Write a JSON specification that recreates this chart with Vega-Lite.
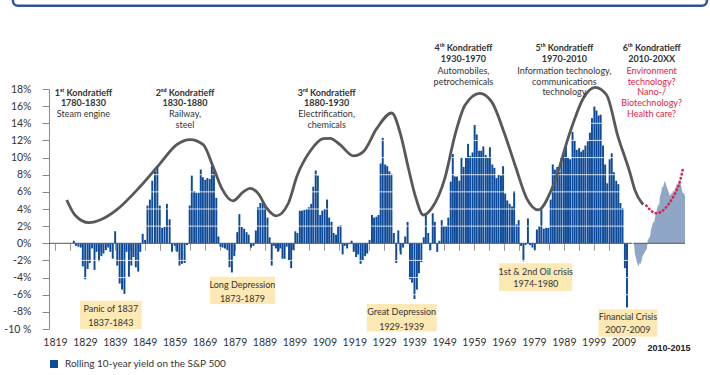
{
"$schema": "https://vega.github.io/schema/vega-lite/v6.json",
"width": 651, "height": 240,
"autosize": {"type": "none"},
"padding": {"left": 49, "top": 89, "right": 10, "bottom": 46},
"background": "white",
"config": {"view": {"stroke": null}},
"datasets": {
"bars": [
{"t":1825.3,"v":0.3},{"t":1826.0,"v":-0.3},{"t":1826.8,"v":-0.4},{"t":1827.6,"v":-0.5},{"t":1828.3,"v":-2.7},{"t":1829.1,"v":-4.2},{"t":1829.9,"v":-3.0},{"t":1830.6,"v":-2.3},{"t":1831.4,"v":-0.6},{"t":1832.2,"v":-3.1},
{"t":1832.9,"v":-1.0},{"t":1833.7,"v":-2.1},{"t":1834.5,"v":-1.5},{"t":1835.2,"v":-1.2},{"t":1836.0,"v":-0.8},{"t":1836.8,"v":-0.5},{"t":1837.5,"v":-1.0},{"t":1838.3,"v":-1.8},{"t":1839.1,"v":1.4},{"t":1839.8,"v":-2.6},
{"t":1840.6,"v":-4.7},{"t":1841.4,"v":-5.4},{"t":1842.2,"v":-5.9},{"t":1842.9,"v":-1.0},{"t":1843.7,"v":-3.9},{"t":1844.5,"v":-2.6},{"t":1845.2,"v":-1.6},{"t":1846.0,"v":-2.8},{"t":1846.8,"v":-3.3},{"t":1847.5,"v":-1.0},
{"t":1848.3,"v":1.1},{"t":1849.1,"v":0.4},{"t":1849.9,"v":4.4},{"t":1850.7,"v":5.1},{"t":1851.5,"v":7.3},{"t":1852.4,"v":8.4},{"t":1853.2,"v":8.9},{"t":1854.0,"v":4.4},{"t":1854.8,"v":1.8},{"t":1855.6,"v":1.9},{"t":1856.4,"v":4.6},{"t":1857.3,"v":2.8},
{"t":1858.1,"v":-1.0},{"t":1859.0,"v":-0.3},{"t":1859.8,"v":-1.0},{"t":1860.6,"v":-2.6},{"t":1861.4,"v":-2.4},{"t":1862.3,"v":-2.3},{"t":1863.1,"v":-0.2},
{"t":1864.0,"v":4.4},{"t":1864.7,"v":7.9},{"t":1865.5,"v":6.1},{"t":1866.2,"v":5.9},{"t":1867.0,"v":5.9},{"t":1867.7,"v":8.6},{"t":1868.4,"v":7.7},{"t":1869.2,"v":7.4},{"t":1869.9,"v":7.6},{"t":1870.7,"v":7.5},{"t":1871.4,"v":9.0},{"t":1872.1,"v":8.4},{"t":1872.9,"v":5.3},{"t":1873.6,"v":0.8},
{"t":1874.3,"v":-0.4},{"t":1875.0,"v":-0.5},{"t":1875.8,"v":-0.6},{"t":1876.6,"v":-0.8},{"t":1877.3,"v":-2.8},{"t":1878.1,"v":-3.4},{"t":1878.9,"v":-1.5},
{"t":1879.9,"v":1.3},{"t":1880.6,"v":3.4},{"t":1881.4,"v":1.9},{"t":1882.2,"v":1.7},{"t":1883.0,"v":1.3},{"t":1883.7,"v":1.0},{"t":1884.5,"v":-0.5},{"t":1885.3,"v":-0.3},{"t":1886.1,"v":1.5},{"t":1886.8,"v":4.2},{"t":1887.6,"v":4.7},{"t":1888.4,"v":4.9},{"t":1889.2,"v":4.3},{"t":1890.0,"v":3.0},{"t":1890.7,"v":0.7},
{"t":1891.4,"v":-2.6},{"t":1892.1,"v":-0.3},{"t":1892.8,"v":-0.6},{"t":1893.5,"v":-1.0},{"t":1894.3,"v":-0.6},{"t":1895.0,"v":-1.8},{"t":1895.7,"v":-1.8},{"t":1896.4,"v":-0.4},{"t":1897.2,"v":-2.0},{"t":1897.9,"v":-2.9},{"t":1898.6,"v":-0.8},
{"t":1899.3,"v":1.4},{"t":1900.0,"v":1.2},{"t":1900.8,"v":3.8},{"t":1901.5,"v":3.8},{"t":1902.3,"v":3.9},{"t":1903.1,"v":4.0},{"t":1903.8,"v":4.2},{"t":1904.6,"v":4.6},{"t":1905.3,"v":6.6},{"t":1906.1,"v":8.5},{"t":1906.8,"v":7.9},{"t":1907.6,"v":3.3},{"t":1908.3,"v":3.8},{"t":1909.1,"v":4.0},{"t":1909.9,"v":5.1},{"t":1910.6,"v":3.0},{"t":1911.4,"v":2.5},{"t":1912.1,"v":1.2},{"t":1912.9,"v":1.0},{"t":1913.6,"v":2.0},{"t":1914.4,"v":2.1},
{"t":1915.1,"v":-1.3},{"t":1915.8,"v":-0.3},{"t":1916.6,"v":-0.6},{"t":1917.3,"v":-0.1},{"t":1918.1,"v":0.3},{"t":1918.8,"v":-1.0},{"t":1919.6,"v":-1.6},{"t":1920.3,"v":-1.3},{"t":1921.1,"v":-2.4},{"t":1921.8,"v":-2.0},{"t":1922.6,"v":-1.5},{"t":1923.3,"v":-1.2},{"t":1924.1,"v":0.4},
{"t":1924.9,"v":3.3},{"t":1925.6,"v":3.0},{"t":1926.4,"v":3.1},{"t":1927.1,"v":3.3},{"t":1927.8,"v":9.3},{"t":1928.5,"v":12.3},{"t":1929.3,"v":9.2},{"t":1930.0,"v":9.0},{"t":1930.7,"v":8.4},{"t":1931.4,"v":8.1},{"t":1932.2,"v":1.2},
{"t":1933.0,"v":-2.3},{"t":1933.7,"v":1.5},{"t":1934.5,"v":-1.3},{"t":1935.3,"v":-0.5},{"t":1936.0,"v":0.8},{"t":1936.8,"v":2.5},{"t":1937.6,"v":-4.2},{"t":1938.3,"v":-4.6},{"t":1939.1,"v":-6.5},{"t":1939.9,"v":-5.4},{"t":1940.6,"v":-3.5},{"t":1941.4,"v":-2.2},
{"t":1942.2,"v":0.7},{"t":1942.9,"v":3.5},{"t":1943.7,"v":1.2},{"t":1944.4,"v":-0.8},{"t":1945.2,"v":3.5},{"t":1945.9,"v":2.5},{"t":1946.7,"v":-1.0},{"t":1947.4,"v":0.3},{"t":1948.2,"v":2.7},{"t":1948.9,"v":2.0},{"t":1949.7,"v":2.0},{"t":1950.4,"v":3.0},
{"t":1951.2,"v":7.2},{"t":1951.9,"v":10.4},{"t":1952.6,"v":7.8},{"t":1953.3,"v":7.8},{"t":1954.1,"v":7.3},{"t":1954.8,"v":10.0},{"t":1955.5,"v":8.9},{"t":1956.3,"v":10.0},{"t":1957.0,"v":11.6},{"t":1957.7,"v":10.2},{"t":1958.5,"v":10.6},{"t":1959.2,"v":13.8},{"t":1959.9,"v":12.7},{"t":1960.7,"v":10.8},{"t":1961.4,"v":10.8},{"t":1962.1,"v":11.3},{"t":1962.9,"v":10.3},{"t":1963.6,"v":10.0},{"t":1964.3,"v":11.2},{"t":1965.1,"v":9.2},{"t":1965.8,"v":8.8},{"t":1966.5,"v":7.6},{"t":1967.2,"v":8.0},{"t":1968.0,"v":7.9},{"t":1968.7,"v":9.0},{"t":1969.4,"v":5.8},
{"t":1970.1,"v":5.0},{"t":1970.9,"v":4.6},{"t":1971.7,"v":4.3},{"t":1972.4,"v":6.1},{"t":1973.2,"v":2.2},{"t":1973.9,"v":2.7},{"t":1974.7,"v":-0.3},{"t":1975.5,"v":-2.1},{"t":1976.2,"v":-0.2},{"t":1977.0,"v":2.9},{"t":1977.7,"v":-0.2},{"t":1978.5,"v":-0.5},{"t":1979.3,"v":-0.8},{"t":1980.0,"v":1.6},{"t":1980.8,"v":2.0},{"t":1981.5,"v":4.0},{"t":1982.3,"v":1.7},{"t":1983.1,"v":1.8},{"t":1983.8,"v":1.8},
{"t":1984.6,"v":5.1},{"t":1985.3,"v":9.2},{"t":1986.0,"v":8.6},{"t":1986.8,"v":8.9},{"t":1987.5,"v":8.3},{"t":1988.2,"v":10.0},{"t":1989.0,"v":10.5},{"t":1989.7,"v":11.7},{"t":1990.4,"v":10.0},{"t":1991.1,"v":9.8},{"t":1991.9,"v":13.0},{"t":1992.6,"v":12.0},{"t":1993.3,"v":10.9},{"t":1994.1,"v":11.1},{"t":1994.8,"v":10.7},{"t":1995.5,"v":10.9},{"t":1996.2,"v":11.4},{"t":1997.0,"v":11.9},{"t":1997.7,"v":12.9},{"t":1998.4,"v":14.6},{"t":1999.2,"v":16.0},{"t":1999.9,"v":15.5},{"t":2000.6,"v":14.9},{"t":2001.3,"v":15.0},{"t":2002.1,"v":11.4},{"t":2002.8,"v":9.2},{"t":2003.5,"v":7.0},{"t":2004.3,"v":9.8},{"t":2005.0,"v":10.5},{"t":2005.7,"v":8.3},{"t":2006.5,"v":7.3},{"t":2007.2,"v":6.9},{"t":2007.9,"v":4.7},{"t":2008.6,"v":4.1},{"t":2009.4,"v":-2.9},{"t":2010.1,"v":-7.5}
],
"grid": [{"g":-8},{"g":-6},{"g":-4},{"g":-2},{"g":2},{"g":4},{"g":6},{"g":8},{"g":10},{"g":12},{"g":14},{"g":16}],
"curve": [
{"year":1824.5,"v":5.05},{"year":1827.2,"v":3.3},{"year":1831.8,"v":2.4},{"year":1836.0,"v":2.8},{"year":1840.9,"v":3.9},{"year":1848.6,"v":6.6},{"year":1855.2,"v":9.3},{"year":1860.7,"v":11.5},{"year":1865.1,"v":12.1},{"year":1869.4,"v":11.5},{"year":1872.7,"v":8.9},{"year":1875.5,"v":6.4},{"year":1879.2,"v":4.95},{"year":1882.6,"v":6.0},{"year":1884.8,"v":6.4},{"year":1887.5,"v":5.8},{"year":1890.3,"v":4.1},{"year":1893.4,"v":3.2},{"year":1897.4,"v":4.67},{"year":1900.2,"v":7.8},{"year":1904.5,"v":10.7},{"year":1908.9,"v":12.2},{"year":1911.1,"v":12.25},{"year":1914.4,"v":11.5},{"year":1918.8,"v":10.2},{"year":1922.1,"v":10.7},{"year":1926.5,"v":13.4},{"year":1931.4,"v":15.2},{"year":1934.4,"v":12.6},{"year":1936.9,"v":8.75},{"year":1939.1,"v":5.6},{"year":1941.8,"v":3.3},{"year":1944.6,"v":4.1},{"year":1948.9,"v":7.6},{"year":1952.2,"v":12.6},{"year":1955.5,"v":16.1},{"year":1960.4,"v":17.5},{"year":1964.3,"v":16.5},{"year":1968.7,"v":12.6},{"year":1972.0,"v":9.1},{"year":1975.8,"v":5.25},{"year":1979.6,"v":3.9},{"year":1984.6,"v":6.8},{"year":1990.1,"v":13.0},{"year":1994.4,"v":16.9},{"year":1998.3,"v":18.2},{"year":2002.1,"v":17.3},{"year":2005.8,"v":12.5},{"year":2009.8,"v":8.2},{"year":2011.4,"v":6.2},{"year":2014.1,"v":4.5}
],
"light": [
{"t":2010.0,"v":0},{"t":2010.1,"v":-1.2},{"t":2010.25,"v":-1.8},{"t":2010.35,"v":-2.2},{"t":2010.45,"v":-2.5},{"t":2010.53,"v":-2.7},{"t":2010.65,"v":-2.3},{"t":2010.82,"v":-2.4},{"t":2010.95,"v":-1.7},{"t":2011.06,"v":-1.4},{"t":2011.18,"v":-1.2},{"t":2011.29,"v":-1.0},{"t":2011.4,"v":-0.8},{"t":2011.53,"v":-0.6},{"t":2011.6,"v":0.3},{"t":2011.75,"v":0.6},{"t":2011.88,"v":0.8},{"t":2012.0,"v":1.6},{"t":2012.12,"v":2.0},{"t":2012.25,"v":2.6},{"t":2012.35,"v":2.3},{"t":2012.47,"v":3.0},{"t":2012.6,"v":3.6},{"t":2012.71,"v":4.0},{"t":2012.85,"v":4.6},{"t":2012.95,"v":4.3},{"t":2013.06,"v":5.5},{"t":2013.2,"v":5.9},{"t":2013.3,"v":6.6},{"t":2013.41,"v":6.5},{"t":2013.53,"v":7.0},{"t":2013.65,"v":7.3},{"t":2013.77,"v":6.8},{"t":2013.88,"v":6.5},{"t":2014.0,"v":6.2},{"t":2014.12,"v":5.8},{"t":2014.24,"v":5.5},{"t":2014.35,"v":5.9},{"t":2014.47,"v":5.7},{"t":2014.59,"v":6.2},{"t":2014.7,"v":6.0},{"t":2014.82,"v":6.4},{"t":2014.94,"v":6.6},{"t":2015.05,"v":7.0},{"t":2015.17,"v":6.7},{"t":2015.29,"v":7.4},{"t":2015.41,"v":7.1},{"t":2015.53,"v":6.8},{"t":2015.65,"v":6.2},{"t":2015.76,"v":5.8},{"t":2015.88,"v":5.9},{"t":2016.0,"v":5.5}
],
"dots": [
{"t":2011.45,"v":4.4},{"t":2011.9,"v":3.9},{"t":2012.4,"v":3.55},{"t":2012.8,"v":3.5},{"t":2013.3,"v":3.75},{"t":2013.85,"v":4.3},{"t":2014.6,"v":5.4},{"t":2015.1,"v":6.4},{"t":2015.45,"v":7.4},{"t":2015.8,"v":8.9}
],
"boxes": [
{"x1":1828.9,"x2":1849.2,"y1":-6.7,"y2":-10.0},
{"x1":1871.6,"x2":1893.0,"y1":-3.9,"y2":-7.08},
{"x1":1923.2,"x2":1946.2,"y1":-7.08,"y2":-10.3},
{"x1":1966.7,"x2":1990.8,"y1":-2.33,"y2":-5.57},
{"x1":1999.4,"x2":2018.8,"y1":-7.7,"y2":-10.9}
],
"events": [
{"x":1839.0,"y":-7.7,"s":"Panic of 1837"},{"x":1839.0,"y":-9.26,"s":"1837-1843"},
{"x":1882.3,"y":-4.87,"s":"Long Depression"},{"x":1882.3,"y":-6.5,"s":"1873-1879"},
{"x":1934.7,"y":-8.05,"s":"Great Depression"},{"x":1934.7,"y":-9.73,"s":"1929-1939"},
{"x":1978.8,"y":-3.31,"s":"1st & 2nd Oil crisis"},{"x":1978.8,"y":-4.78,"s":"1974-1980"},
{"x":2009.1,"y":-8.63,"s":"Financial Crisis"},{"x":2009.1,"y":-10.1,"s":"2007-2009"}
],
"heads": [
{"x":1830.0,"y":17.5,"s":"1ˢᵗ Kondratieff"},{"x":1830.0,"y":16.34,"s":"1780-1830"},
{"x":1863.4,"y":17.5,"s":"2ⁿᵈ Kondratieff"},{"x":1863.4,"y":16.34,"s":"1830-1880"},
{"x":1910.0,"y":17.5,"s":"3ʳᵈ Kondratieff"},{"x":1910.0,"y":16.34,"s":"1880-1930"},
{"x":1955.0,"y":22.75,"s":"4ᵗʰ Kondratieff"},{"x":1955.0,"y":21.47,"s":"1930-1970"},
{"x":1988.2,"y":22.75,"s":"5ᵗʰ Kondratieff"},{"x":1988.2,"y":21.47,"s":"1970-2010"},
{"x":2016.9,"y":22.75,"s":"6ᵗʰ Kondratieff"},{"x":2016.9,"y":21.47,"s":"2010-20XX"}
],
"descs": [
{"x":1830.0,"y":15.05,"s":"Steam engine"},
{"x":1863.4,"y":15.05,"s":"Railway,"},{"x":1863.4,"y":13.8,"s":"steel"},
{"x":1910.0,"y":15.05,"s":"Electrification,"},{"x":1910.0,"y":13.8,"s":"chemicals"},
{"x":1955.0,"y":20.14,"s":"Automobiles,"},{"x":1955.0,"y":18.85,"s":"petrochemicals"},
{"x":1988.2,"y":20.14,"s":"Information technology,"},{"x":1988.2,"y":18.85,"s":"communications"},{"x":1988.2,"y":17.6,"s":"technology"}
],
"questions": [
{"x":2016.9,"y":20.14,"s":"Environment"},{"x":2016.9,"y":18.85,"s":"technology?"},{"x":2016.9,"y":17.6,"s":"Nano-/"},{"x":2016.9,"y":16.34,"s":"Biotechnology?"},{"x":2016.9,"y":15.05,"s":"Health care?"}
]
},
"layer": [
{
"data": {"name": "bars"},
"mark": {"type": "bar", "width": 1.95, "color": "#0D4A99"},
"encoding": {
"x": {"field": "t", "type": "quantitative", "scale": {"domain": [1818.67, 2032.82], "nice": false, "zero": false},
"axis": {"orient": "bottom", "offset": -85.7, "values": [1819,1824,1829,1834,1839,1844,1849,1854,1859,1864,1869,1874,1879,1884,1889,1894,1899,1904,1909,1914,1919,1924,1929,1934,1939,1944,1949,1954,1959,1964,1969,1974,1979,1984,1989,1994,1999,2004,2009], "labelExpr": "(datum.value - 1819) % 10 == 0 ? '' + datum.value : ''", "title": null, "ticks": true, "tickSize": 7, "tickColor": "#9a9a9a", "domain": false, "grid": false, "labelPadding": 87, "labelFont": "Lato", "labelFontSize": 10.5, "labelColor": "#333333", "labelFlush": false, "labelOverlap": false, "labelBound": false}},
"y": {"field": "v", "type": "quantitative", "scale": {"domain": [-10, 18], "nice": false, "zero": false},
"axis": {"orient": "left", "values": [-10,-8,-6,-4,-2,0,2,4,6,8,10,12,14,16,18], "labelExpr": "datum.value == -10 ? '-10 %' : datum.value + '%'", "title": null, "grid": false, "tickSize": 7, "labelPadding": 11, "tickColor": "#8a8a8a", "domainColor": "#8a8a8a", "labelFont": "Lato", "labelFontSize": 10.5, "labelColor": "#333333", "labelOverlap": false, "labelFlush": false, "labelBound": false}},
"color": {"datum": "Rolling 10-year yield on the S&P 500", "type": "nominal", "scale": {"range": ["#0D4A99"]},
"legend": {"orient": "none", "legendX": 0, "legendY": 270, "title": null, "symbolType": "square", "symbolSize": 64, "symbolStrokeWidth": 0, "labelFont": "Lato", "labelFontSize": 10, "labelColor": "#333333", "labelLimit": 0, "padding": 0, "labelOffset": 6}}
}
},
{
"data": {"name": "grid"},
"mark": {"type": "rule", "color": "white", "strokeWidth": 0.8},
"encoding": {
"y": {"field": "g", "type": "quantitative", "scale": {"domain": [-10, 18], "nice": false, "zero": false}, "axis": null},
"x": {"datum": 1819.3, "type": "quantitative", "scale": {"domain": [1818.67, 2032.82], "nice": false, "zero": false}, "axis": null},
"x2": {"datum": 2010.8}
}
},
{
"data": {"values": [{}]},
"mark": {"type": "rule", "color": "#555555", "strokeWidth": 1},
"encoding": {
"y": {"datum": 0, "type": "quantitative", "scale": {"domain": [-10, 18], "nice": false, "zero": false}, "axis": null},
"x": {"datum": 1818.67, "type": "quantitative", "scale": {"domain": [1818.67, 2032.82], "nice": false, "zero": false}, "axis": null},
"x2": {"datum": 2010.5}
}
},
{
"data": {"name": "curve"},
"mark": {"type": "line", "color": "#585858", "strokeWidth": 2.8, "interpolate": "monotone"},
"encoding": {
"x": {"field": "year", "type": "quantitative", "scale": {"domain": [1818.67, 2032.82], "nice": false, "zero": false}, "axis": null},
"y": {"field": "v", "type": "quantitative", "scale": {"domain": [-10, 18], "nice": false, "zero": false}, "axis": null}
}
},
{
"data": {"name": "boxes"},
"mark": {"type": "rect", "fill": "#FCE9B4"},
"encoding": {
"x": {"field": "x1", "type": "quantitative", "scale": {"domain": [1818.67, 2032.82], "nice": false, "zero": false}, "axis": null},
"x2": {"field": "x2"},
"y": {"field": "y1", "type": "quantitative", "scale": {"domain": [-10, 18], "nice": false, "zero": false}, "axis": null},
"y2": {"field": "y2"}
}
},
{
"data": {"name": "events"},
"mark": {"type": "text", "font": "Lato", "fontSize": 9, "color": "#333333", "align": "center", "baseline": "middle"},
"encoding": {
"x": {"field": "x", "type": "quantitative", "scale": {"domain": [1818.67, 2032.82], "nice": false, "zero": false}, "axis": null},
"y": {"field": "y", "type": "quantitative", "scale": {"domain": [-10, 18], "nice": false, "zero": false}, "axis": null},
"text": {"field": "s"}
}
},
{
"data": {"name": "heads"},
"mark": {"type": "text", "font": "Lato", "fontSize": 9, "fontWeight": "bold", "color": "#333333", "align": "center", "baseline": "middle"},
"encoding": {
"x": {"field": "x", "type": "quantitative", "scale": {"domain": [1818.67, 2032.82], "nice": false, "zero": false}, "axis": null},
"y": {"field": "y", "type": "quantitative", "scale": {"domain": [-10, 18], "nice": false, "zero": false}, "axis": null},
"text": {"field": "s"}
}
},
{
"data": {"name": "descs"},
"mark": {"type": "text", "font": "Lato", "fontSize": 9, "color": "#333333", "align": "center", "baseline": "middle"},
"encoding": {
"x": {"field": "x", "type": "quantitative", "scale": {"domain": [1818.67, 2032.82], "nice": false, "zero": false}, "axis": null},
"y": {"field": "y", "type": "quantitative", "scale": {"domain": [-10, 18], "nice": false, "zero": false}, "axis": null},
"text": {"field": "s"}
}
},
{
"data": {"name": "questions"},
"mark": {"type": "text", "font": "Lato", "fontSize": 9, "color": "#E0224A", "align": "center", "baseline": "middle"},
"encoding": {
"x": {"field": "x", "type": "quantitative", "scale": {"domain": [1818.67, 2032.82], "nice": false, "zero": false}, "axis": null},
"y": {"field": "y", "type": "quantitative", "scale": {"domain": [-10, 18], "nice": false, "zero": false}, "axis": null},
"text": {"field": "s"}
}
},
{
"data": {"name": "light"},
"mark": {"type": "area", "color": "#8FA6C6", "opacity": 1},
"encoding": {
"x": {"field": "t", "type": "quantitative", "scale": {"domain": [2010, 2016], "range": [585, 636], "nice": false, "zero": false},
"axis": {"orient": "bottom", "title": "2010-2015", "labels": false, "ticks": false, "domain": false, "grid": false, "titleFont": "Liberation Sans", "titleFontWeight": "bold", "titleFontSize": 9, "titleColor": "#222222", "titleX": 619.5, "titleY": 18, "titleAlign": "center", "titleBaseline": "middle"}},
"y": {"field": "v", "type": "quantitative", "scale": {"domain": [-10, 18], "nice": false, "zero": false}, "axis": null}
}
},
{
"data": {"values": [{}]},
"mark": {"type": "rule", "color": "#555555", "strokeWidth": 1},
"encoding": {
"y": {"datum": 0, "type": "quantitative", "scale": {"domain": [-10, 18], "nice": false, "zero": false}, "axis": null},
"x": {"datum": 2009.9, "type": "quantitative", "scale": {"domain": [2010, 2016], "range": [585, 636], "nice": false, "zero": false}, "axis": null},
"x2": {"datum": 2016.0}
}
},
{
"data": {"name": "dots"},
"mark": {"type": "line", "color": "#E0224A", "strokeWidth": 2.6, "strokeDash": [0.5, 3.6], "strokeCap": "round", "interpolate": "monotone"},
"encoding": {
"x": {"field": "t", "type": "quantitative", "scale": {"domain": [2010, 2016], "range": [585, 636], "nice": false, "zero": false}, "axis": null},
"y": {"field": "v", "type": "quantitative", "scale": {"domain": [-10, 18], "nice": false, "zero": false}, "axis": null}
}
},
{
"data": {"values": [{}]},
"mark": {"type": "rect", "fill": "white", "stroke": "#2E5597", "strokeWidth": 2.5, "cornerRadius": 5},
"encoding": {
"x": {"datum": 1806.8, "type": "quantitative", "scale": {"domain": [1818.67, 2032.82], "nice": false, "zero": false}, "axis": null},
"x2": {"datum": 2035.1},
"y": {"datum": 27.7, "type": "quantitative", "scale": {"domain": [-10, 18], "nice": false, "zero": false}, "axis": null},
"y2": {"datum": 45}
}
}
],
"resolve": {"scale": {"x": "independent", "y": "independent"}}
}
